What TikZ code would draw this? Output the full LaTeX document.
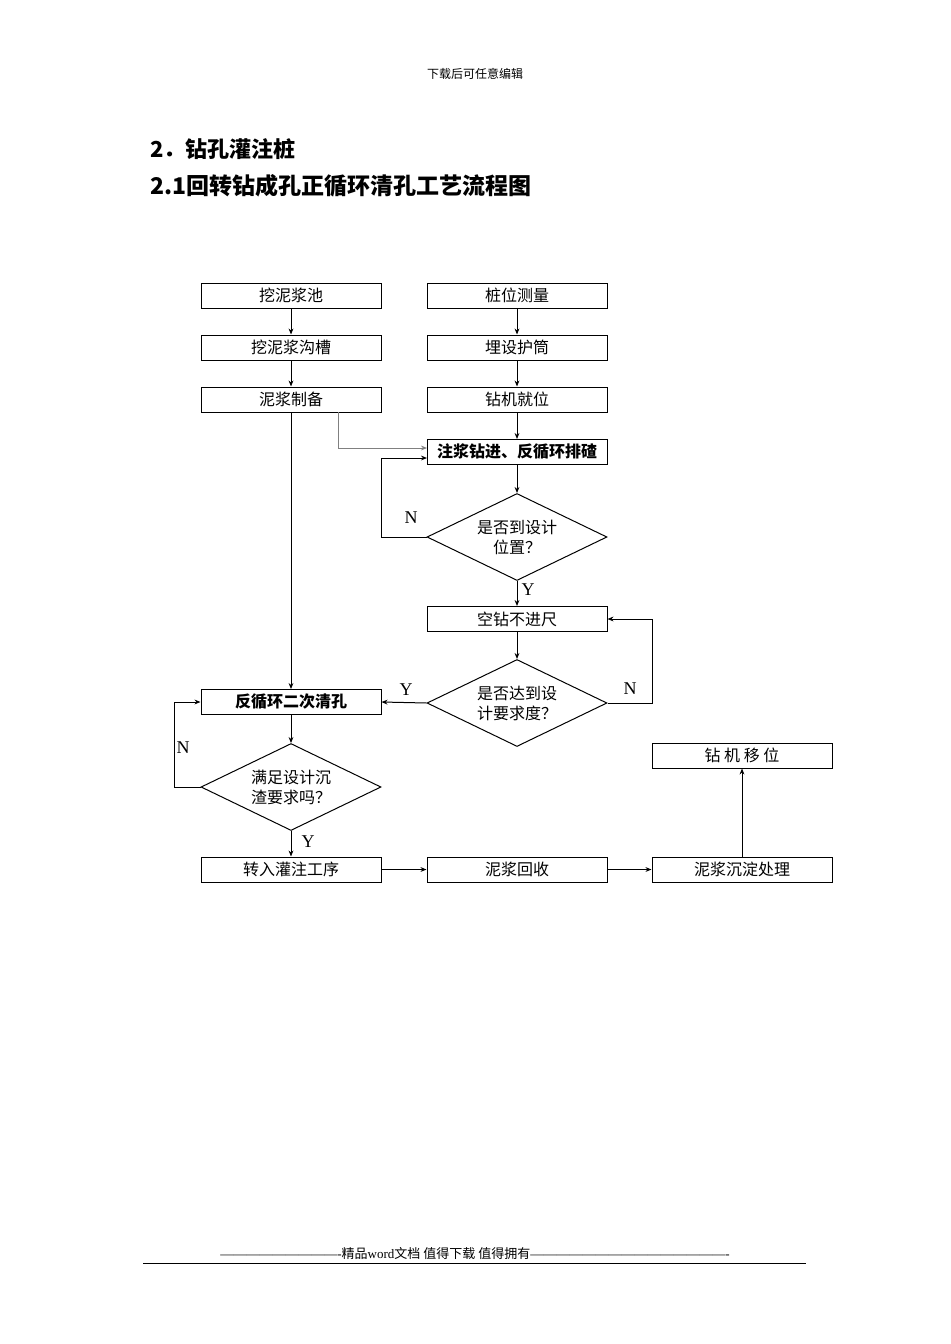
\documentclass[tikz,border=0pt]{standalone}
\usepackage{fontspec}
\setmainfont{Liberation Serif}
\newfontfamily\cjk{Noto Sans CJK SC}
\usetikzlibrary{arrows.meta,shapes.geometric}
\begin{document}
\begin{tikzpicture}[x=0.5pt,y=-0.5pt,
 box/.style={draw,line width=0.5pt,minimum width=90pt,minimum height=12.5pt,inner sep=0pt,font=\cjk\fontsize{8}{9}\selectfont},
 dia/.style={draw,line width=0.5pt,diamond,aspect=2.05,minimum width=90pt,minimum height=43.5pt,inner sep=0pt,align=center,font=\cjk\fontsize{8}{10}\selectfont},
 ar/.style={-{Stealth[length=3pt,width=2.4pt]},line width=0.5pt},
 lab/.style={font=\fontsize{9}{9}\selectfont}]
\useasboundingbox (0,0) rectangle (950,1344);
\node[font=\cjk\fontsize{6}{6}\selectfont] (hd) at (475,74) {下载后可任意编辑};
\node[anchor=west,font=\cjk\bfseries\fontsize{11}{11}\selectfont] (t1) at (143,149) {2．钻孔灌注桩};
\node[anchor=west,font=\cjk\bfseries\fontsize{11.5}{11}\selectfont] (t2) at (143,186) {2.1回转钻成孔正循环清孔工艺流程图};
\node[box] (a1) at (291,295.5) {挖泥浆池};
\node[box] (a2) at (291,347.5) {挖泥浆沟槽};
\node[box] (a3) at (291,399.5) {泥浆制备};
\node[box] (b1) at (517,295.5) {桩位测量};
\node[box] (b2) at (517,347.5) {埋设护筒};
\node[box] (b3) at (517,399.5) {钻机就位};
\node[box,font=\cjk\bfseries\fontsize{8}{9}\selectfont] (b4) at (517,452) {注浆钻进、反循环排碴};
\node[dia] (d1) at (517,537) {是否到设计\\位置？};
\node[box] (b5) at (517,619) {空钻不进尺};
\node[dia] (d2) at (517,703) {是否达到设\\计要求度？};
\node[box,font=\cjk\bfseries\fontsize{8}{9}\selectfont] (a4) at (291,702) {反循环二次清孔};
\node[dia] (d3) at (291,787) {满足设计沉\\渣要求吗？};
\node[box] (a5) at (291,869.5) {转入灌注工序};
\node[box] (b6) at (517,869.5) {泥浆回收};
\node[box] (c1) at (742,869.5) {泥浆沉淀处理};
\node[box] (c2) at (742,755.5) {钻\ 机\ 移\ 位};
\draw[ar] (a1) -- (a2); \draw[ar] (a2) -- (a3); \draw[ar] (a3) -- (a4);
\draw[ar] (b1) -- (b2); \draw[ar] (b2) -- (b3); \draw[ar] (b3) -- (b4);
\draw[ar] (b4) -- (d1); \draw[ar] (d1) -- (b5); \draw[ar] (b5) -- (d2);
\draw[ar,gray] (338,412) |- (427,448);
\draw[ar] (d1.west) -- (381,537) |- (427,458);
\draw[ar] (d2.east) -- (652,703) |- (b5.east);
\draw[ar] (d2.west) -- (a4.east);
\draw[ar] (a4) -- (d3);
\draw[ar] (d3.west) -- (174,787) |- (a4.west);
\draw[ar] (d3) -- (a5);
\draw[ar] (a5) -- (b6); \draw[ar] (b6) -- (c1); \draw[ar] (c1) -- (c2);
\node[lab] (n1) at (411,518) {N};
\node[lab] (y1) at (528,590) {Y};
\node[lab] (n2) at (630,689) {N};
\node[lab] (y2) at (406,690) {Y};
\node[lab] (n3) at (183,748) {N};
\node[lab] (y3) at (308,842) {Y};
\node[font=\fontsize{6.5}{7}\selectfont] (ft) at (475,1254) {----------------------------{\cjk 精品}word{\cjk 文档 值得下载 值得拥有}----------------------------------------------};
\draw[line width=0.5pt] (143,1263) -- (806,1263);
\end{tikzpicture}
\end{document}
